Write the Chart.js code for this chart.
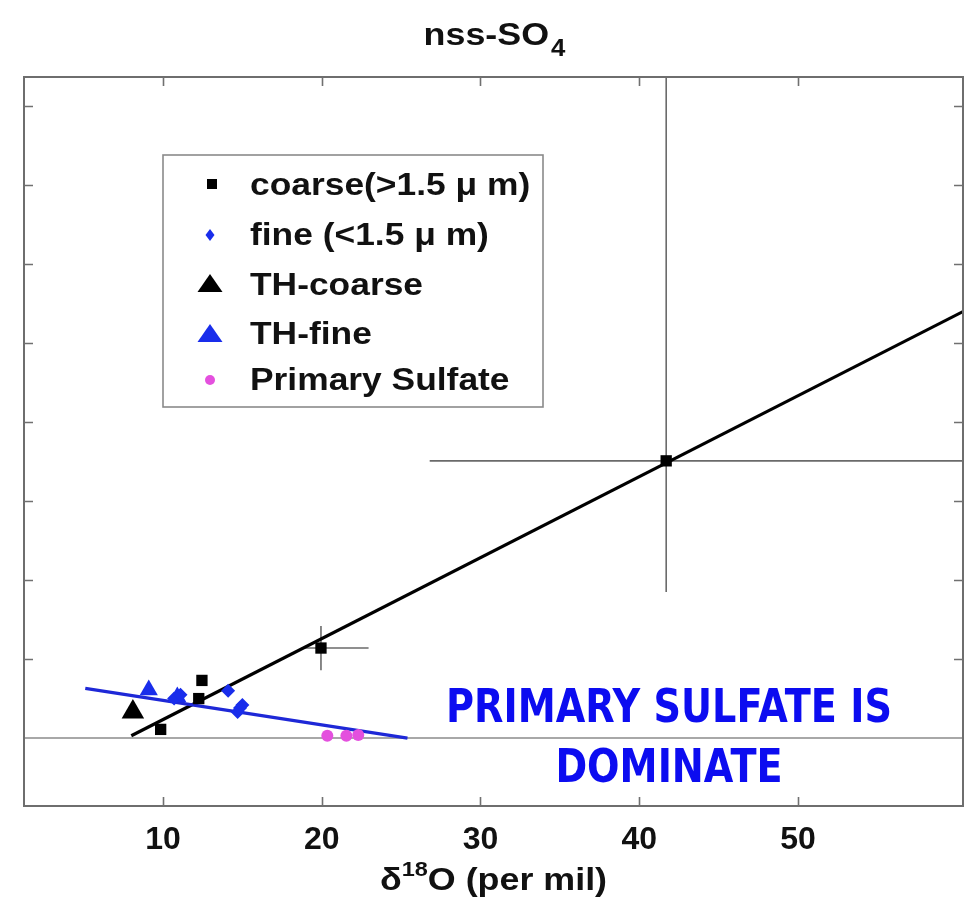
<!DOCTYPE html>
<html>
<head>
<meta charset="utf-8">
<script src="https://cdn.jsdelivr.net/npm/chart.js@4.4.1/dist/chart.umd.min.js"></script>
<style>
  html, body { margin: 0; padding: 0; background: #fff; }
  #wrap { width: 971px; height: 902px; }
</style>
</head>
<body>
<div id="wrap"><canvas id="c" width="971" height="902"></canvas></div>
<script>
// ---- data ----
const xTicks = [10, 20, 30, 40, 50];
const yTicks = [1, 2, 3, 4, 5, 6, 7, 8];          // unlabeled tick marks

const coarseX      = [9.85, 12.25, 12.45, 19.95, 41.7];
const coarseY      = [0.11, 0.50, 0.73, 1.14, 3.51];
const coarseXMinus = [0, 0, 0, 1.2, 14.9];
const coarseXPlus  = [0, 0, 0, 3.0, 20.0];
const coarseYMinus = [0, 0, 0, 0.28, 1.66];
const coarseYPlus  = [0, 0, 0, 0.28, 6.0];

const fineX = [10.7, 11.1, 14.1, 14.7, 15.0, 14.85];
const fineY = [0.50, 0.55, 0.60, 0.33, 0.42, 0.38];

const thCoarseX = [8.1];
const thCoarseY = [0.33];

const thFineX = [9.1, 10.9];
const thFineY = [0.61, 0.52];

const primaryX = [20.35, 21.55, 22.3];
const primaryY = [0.03, 0.03, 0.04];

const coarseFitX = [8.0, 60.4];
const coarseFitY = [0.03, 5.40];
const fineFitX = [5.1, 25.4];
const fineFitY = [0.63, 0.0];

const legendLabels = ['coarse(>1.5 \u03bc m)', 'fine (<1.5 \u03bc m)', 'TH-coarse', 'TH-fine', 'Primary Sulfate'];
const noteLines = ['PRIMARY SULFATE IS', 'DOMINATE'];

// ---- helpers ----
const pts = (xs, ys) => xs.map((x, i) => ({ x, y: ys[i] }));
const BLUE = 'rgb(25,45,235)';
const PINK = 'rgb(228,80,222)';
const SANS = '"Liberation Sans", Arial, sans-serif';

// draws text stretched horizontally by factor sx, left aligned at x
function wideText(ctx, text, x, y, font, sx) {
  ctx.save();
  ctx.font = font;
  ctx.translate(x, y);
  ctx.scale(sx, 1);
  ctx.fillText(text, 0, 0);
  ctx.restore();
}
function textWidth(ctx, text, font) {
  ctx.save(); ctx.font = font; const w = ctx.measureText(text).width; ctx.restore(); return w;
}

function marker(ctx, style, x, y, w, h, color) {
  ctx.save();
  ctx.fillStyle = color;
  ctx.beginPath();
  if (style === 'rect') {
    ctx.rect(x - w / 2, y - h / 2, w, h);
  } else if (style === 'rectRot') {
    ctx.moveTo(x, y - h / 2); ctx.lineTo(x + w / 2, y); ctx.lineTo(x, y + h / 2); ctx.lineTo(x - w / 2, y);
    ctx.closePath();
  } else if (style === 'triangle') {
    ctx.moveTo(x, y - h / 2); ctx.lineTo(x + w / 2, y + h / 2); ctx.lineTo(x - w / 2, y + h / 2);
    ctx.closePath();
  } else {
    ctx.arc(x, y, w / 2, 0, Math.PI * 2);
  }
  ctx.fill();
  ctx.restore();
}

// frame, inward ticks, zero line, error bars, titles, legend and note
const framePlugin = {
  id: 'frame',
  beforeDatasetsDraw(chart) {
    const { ctx, chartArea: a, scales: { x, y } } = chart;
    ctx.save();
    ctx.beginPath(); ctx.rect(a.left, a.top, a.right - a.left, a.bottom - a.top); ctx.clip();
    const y0 = y.getPixelForValue(0);
    ctx.strokeStyle = '#a8a8a8'; ctx.lineWidth = 2;
    ctx.beginPath(); ctx.moveTo(a.left, y0); ctx.lineTo(a.right, y0); ctx.stroke();
    ctx.strokeStyle = '#6a6a6a'; ctx.lineWidth = 1.6;
    coarseX.forEach((cx, i) => {
      const cy = coarseY[i];
      if (coarseXMinus[i] || coarseXPlus[i]) {
        ctx.beginPath();
        ctx.moveTo(x.getPixelForValue(cx - coarseXMinus[i]), y.getPixelForValue(cy));
        ctx.lineTo(x.getPixelForValue(cx + coarseXPlus[i]), y.getPixelForValue(cy));
        ctx.stroke();
      }
      if (coarseYMinus[i] || coarseYPlus[i]) {
        ctx.beginPath();
        ctx.moveTo(x.getPixelForValue(cx), y.getPixelForValue(cy - coarseYMinus[i]));
        ctx.lineTo(x.getPixelForValue(cx), y.getPixelForValue(cy + coarseYPlus[i]));
        ctx.stroke();
      }
    });
    ctx.restore();
  },
  afterDatasetsDraw(chart) {
    const { ctx, chartArea: a, scales: { x, y } } = chart;
    ctx.save();
    ctx.strokeStyle = '#6e6e6e'; ctx.lineWidth = 2;
    ctx.strokeRect(a.left, a.top, a.right - a.left, a.bottom - a.top);
    ctx.lineWidth = 1.6; ctx.strokeStyle = '#707070';
    const L = 9;
    xTicks.forEach(v => {
      const px = Math.round(x.getPixelForValue(v)) + 0.5;
      ctx.beginPath();
      ctx.moveTo(px, a.bottom); ctx.lineTo(px, a.bottom - L);
      ctx.moveTo(px, a.top); ctx.lineTo(px, a.top + L);
      ctx.stroke();
    });
    yTicks.forEach(v => {
      const py = Math.round(y.getPixelForValue(v)) + 0.5;
      ctx.beginPath();
      ctx.moveTo(a.left, py); ctx.lineTo(a.left + L, py);
      ctx.moveTo(a.right, py); ctx.lineTo(a.right - L, py);
      ctx.stroke();
    });
    ctx.restore();
  },
  afterDraw(chart) {
    const { ctx, chartArea: a } = chart;
    ctx.save();
    const cx = (a.left + a.right) / 2;
    const SX = 1.12;
    ctx.fillStyle = '#111';
    ctx.textBaseline = 'alphabetic';

    // title nss-SO4
    const fT = 'bold 32px ' + SANS, fTs = 'bold 23px ' + SANS;
    const w1 = textWidth(ctx, 'nss-SO', fT) * SX, w2 = textWidth(ctx, '4', fTs) * SX;
    let sx = cx - (w1 + w2) / 2;
    wideText(ctx, 'nss-SO', sx, 45, fT, SX);
    wideText(ctx, '4', sx + w1 + 2, 56, fTs, SX);

    // x axis title δ18O (per mil)
    const fA = 'bold 32px ' + SANS, fAs = 'bold 21px ' + SANS;
    const wa1 = textWidth(ctx, '\u03b4', fA) * SX, wa2 = textWidth(ctx, '18', fAs) * SX,
          wa3 = textWidth(ctx, 'O (per mil)', fA) * SX;
    sx = cx - (wa1 + wa2 + wa3) / 2;
    const base = 890;
    wideText(ctx, '\u03b4', sx, base, fA, SX);
    wideText(ctx, '18', sx + wa1, base - 14, fAs, SX);
    wideText(ctx, 'O (per mil)', sx + wa1 + wa2, base, fA, SX);

    // legend box
    const bx = 163, by = 155, bw = 380, bh = 252;
    ctx.fillStyle = '#fff';
    ctx.fillRect(bx, by, bw, bh);
    ctx.strokeStyle = '#8a8a8a'; ctx.lineWidth = 1.6;
    ctx.strokeRect(bx, by, bw, bh);
    const baselines = [195, 245, 295, 344, 390];
    const marks = [
      ['rect', 212, 184, 10, 10, '#000'],
      ['rectRot', 210, 235, 9, 12, BLUE],
      ['triangle', 210, 283, 25, 18, '#000'],
      ['triangle', 210, 333, 25, 18, BLUE],
      ['circle', 210, 380, 10, 10, PINK]
    ];
    const fL = 'bold 31px ' + SANS;
    const lsx = 173 / textWidth(ctx, 'TH-coarse', fL);
    legendLabels.forEach((lab, i) => {
      const [st, mx, my, w, h, col] = marks[i];
      marker(ctx, st, mx, my, w, h, col);
      ctx.fillStyle = '#111';
      wideText(ctx, lab, 250, baselines[i], fL, lsx);
    });

    // note
    ctx.fillStyle = 'rgb(12,12,240)';
    ctx.font = 'bold 46px "DejaVu Sans", sans-serif';
    const ratio = Math.min(1, 446 / ctx.measureText(noteLines[0]).width);
    [722, 782].forEach((bl, i) => {
      ctx.save();
      ctx.translate(669, bl);
      ctx.scale(ratio, 1);
      ctx.textAlign = 'center';
      ctx.fillText(noteLines[i], 0, 0);
      ctx.restore();
    });
    ctx.restore();
  }
};

const chart = new Chart(document.getElementById('c'), {
  type: 'scatter',
  data: {
    datasets: [
      { label: legendLabels[0], data: pts(coarseX, coarseY), pointStyle: 'rect', pointRadius: 8,
        backgroundColor: '#000', borderColor: '#000', borderWidth: 0, order: 1 },
      { label: legendLabels[1], data: pts(fineX, fineY), pointStyle: 'rectRot', pointRadius: 7,
        backgroundColor: BLUE, borderColor: BLUE, borderWidth: 0, order: 2 },
      { label: legendLabels[2], data: pts(thCoarseX, thCoarseY), pointStyle: 'triangle', pointRadius: 13,
        backgroundColor: '#000', borderColor: '#000', borderWidth: 0, order: 3 },
      { label: legendLabels[3], data: pts(thFineX, thFineY), pointStyle: 'triangle', pointRadius: 10.5,
        backgroundColor: BLUE, borderColor: BLUE, borderWidth: 0, order: 2 },
      { label: legendLabels[4], data: pts(primaryX, primaryY), pointStyle: 'circle', pointRadius: 6,
        backgroundColor: PINK, borderColor: PINK, borderWidth: 0, order: 4 },
      { label: 'coarse fit', data: pts(coarseFitX, coarseFitY), showLine: true, pointRadius: 0,
        borderColor: '#000', borderWidth: 3.2, order: 10 },
      { label: 'fine fit', data: pts(fineFitX, fineFitY), showLine: true, pointRadius: 0,
        borderColor: 'rgb(30,40,215)', borderWidth: 3.2, order: 9 }
    ]
  },
  options: {
    responsive: false,
    animation: false,
    events: [],
    layout: { autoPadding: false, padding: { left: 24, right: 8, top: 77, bottom: 0 } },
    plugins: { legend: { display: false }, tooltip: { enabled: false }, title: { display: false } },
    scales: {
      x: {
        type: 'linear', min: 1.24, max: 60.4,
        afterBuildTicks: s => { s.ticks = xTicks.map(v => ({ value: v })); },
        afterFit: s => { s.height = 96; },
        grid: { display: false, drawTicks: false },
        border: { display: false },
        ticks: { padding: 15, color: '#111', maxRotation: 0,
                 font: { family: SANS, size: 32, weight: 'bold' } }
      },
      y: {
        type: 'linear', min: -0.86, max: 8.37, display: false
      }
    }
  },
  plugins: [framePlugin]
});
</script>
</body>
</html>
